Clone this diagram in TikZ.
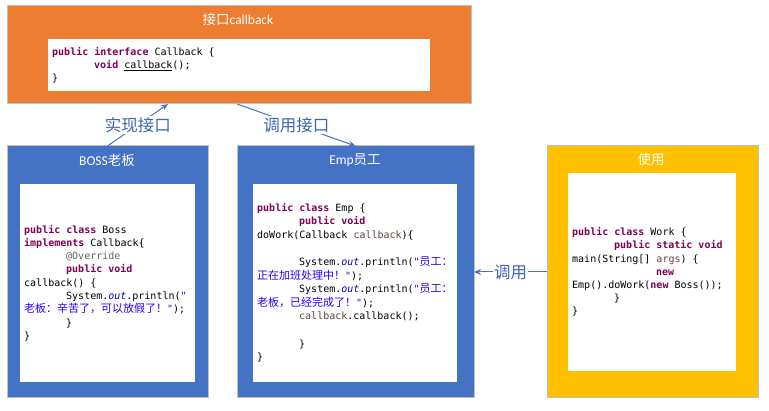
\documentclass[tikz,border=0pt]{standalone}
\usepackage{fontspec}
\setmainfont{Carlito}
\setmonofont{DejaVu Sans Mono}
\newfontfamily\cjk{Noto Sans CJK SC}
\newfontfamily\cjkc[Scale=1.1]{Noto Sans CJK SC}
\usetikzlibrary{arrows.meta,calc}
\definecolor{orangebox}{HTML}{ED7D31}
\definecolor{bluebox}{HTML}{4472C4}
\definecolor{yellowbox}{HTML}{FFC000}
\definecolor{bordergray}{HTML}{BFBFBF}
\definecolor{lineblue}{HTML}{4472C4}
\definecolor{labelblue}{HTML}{3D66B2}
\definecolor{jkwc}{HTML}{7F0055}
\definecolor{jstrc}{HTML}{2A00FF}
\definecolor{jannc}{HTML}{646464}
\definecolor{jfldc}{HTML}{0000C0}
\definecolor{jlvc}{HTML}{6A3E3E}
\newcommand\jkw[1]{\textcolor{jkwc}{\bfseries #1}}
\newcommand\jstr[1]{\textcolor{jstrc}{#1}}
\newcommand\jfld[1]{\textcolor{jfldc}{\itshape #1}}
\newcommand\jlv[1]{\textcolor{jlvc}{#1}}
\begin{document}
\begin{tikzpicture}[x=1pt,y=-1pt,
  outerbox/.style={draw=bordergray, line width=1pt, anchor=north west, inner sep=0pt, outer sep=0pt},
  innerbox/.style={fill=white, draw=none, anchor=north west, inner sep=0pt, outer sep=0pt},
  title/.style={text=white, font=\fontsize{13.5}{15}\selectfont, inner sep=0pt},
  code/.style={anchor=north west, inner sep=0pt, align=left},
  conn/.style={draw=lineblue, line width=1pt, -{Stealth[length=7pt,width=6pt]}},
  lbl/.style={fill=white, text=labelblue, font=\cjk\fontsize{16.5}{18}\selectfont, inner sep=1pt}]
\useasboundingbox (0,0) rectangle (769,411);
% interface box
\node[outerbox, fill=orangebox, minimum width=464pt, minimum height=98pt] (iface) at (7,6) {};
\node[innerbox, minimum width=382pt, minimum height=52pt] (ifacein) at (48,39) {};
\node[title] (ifacetitle) at (238,19) {{\cjk 接口}callback};
\node[code, font=\ttfamily\fontsize{10}{13}\selectfont] (ifacecode) at (52,46) {\strut\jkw{public} \jkw{interface} Callback \{\\
\hspace*{42pt}\jkw{void} \underline{callback}();\\
\}};
% boss box
\node[outerbox, fill=bluebox, minimum width=201pt, minimum height=252pt] (boss) at (7,146) {};
\node[innerbox, minimum width=175pt, minimum height=198pt] (bossin) at (20,184) {};
\node[title] (bosstitle) at (107,160) {BOSS{\cjk 老板}};
\node[code, font=\ttfamily\fontsize{10}{13.3}\selectfont] (bosscode) at (24,223.5) {\strut\jkw{public} \jkw{class} Boss\\
\jkw{implements} Callback\{\\
\hspace*{42pt}\textcolor{jannc}{@Override}\\
\hspace*{42pt}\jkw{public} \jkw{void}\\
callback() \{\\
\hspace*{42pt}System.\jfld{out}.println(\jstr{"}\\
\jstr{{\cjkc 老板：辛苦了，可以放假了！}"});\\
\hspace*{42pt}\}\\
\}};
% emp box
\node[outerbox, fill=bluebox, minimum width=237pt, minimum height=252pt] (emp) at (237,146) {};
\node[innerbox, minimum width=204pt, minimum height=198pt] (empin) at (253,184) {};
\node[title] (emptitle) at (355,160) {Emp{\cjk 员工}};
\node[code, font=\ttfamily\fontsize{10}{13.6}\selectfont] (empcode) at (257,201.4) {\strut\jkw{public} \jkw{class} Emp \{\\
\hspace*{42pt}\jkw{public} \jkw{void}\\
doWork(Callback \jlv{callback})\{\\
\mbox{}\\
\hspace*{42pt}System.\jfld{out}.println(\jstr{"{\cjkc 员工：}}\\
\jstr{{\cjkc 正在加班处理中！}"});\\
\hspace*{42pt}System.\jfld{out}.println(\jstr{"{\cjkc 员工：}}\\
\jstr{{\cjkc 老板，已经完成了！}"});\\
\hspace*{42pt}\jlv{callback}.callback();\\
\mbox{}\\
\hspace*{42pt}\}\\
\}};
% work box
\node[outerbox, fill=yellowbox, minimum width=211pt, minimum height=252pt] (work) at (547,146) {};
\node[innerbox, minimum width=168pt, minimum height=198pt] (workin) at (568,173) {};
\node[title] (worktitle) at (651,159) {{\cjk 使用}};
\node[code, font=\ttfamily\fontsize{10}{13.1}\selectfont] (workcode) at (572,226.5) {\strut\jkw{public} \jkw{class} Work \{\\
\hspace*{42pt}\jkw{public} \jkw{static} \jkw{void}\\
main(String[] \jlv{args}) \{\\
\hspace*{84pt}\jkw{new}\\
Emp().doWork(\jkw{new} Boss());\\
\hspace*{42pt}\}\\
\}};
% connectors
\draw[conn] (boss.north) -- node[lbl] (l1) {实现接口} ($(iface.south west)+(161,0)$);
\draw[conn] ($(iface.south west)+(230,0)$) -- node[lbl] (l2) {调用接口} (emp.north);
\draw[conn] (work.west) -- node[lbl] (l3) {调用} (emp.east);
\end{tikzpicture}
\end{document}
